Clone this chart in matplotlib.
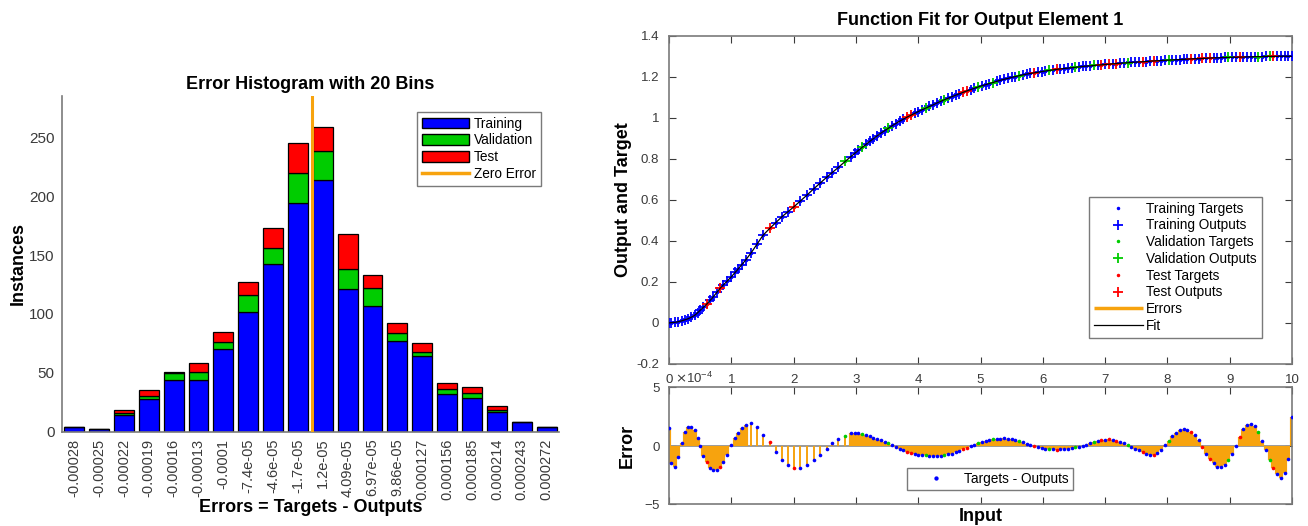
import numpy as np
import matplotlib
matplotlib.use("Agg")
import matplotlib.pyplot as plt
from matplotlib.patches import Patch
from matplotlib.lines import Line2D
from matplotlib.ticker import FuncFormatter, ScalarFormatter

plt.rcParams['font.family'] = ['Liberation Sans', 'DejaVu Sans']
plt.rcParams['axes.unicode_minus'] = False

# ---------------- error histogram (20 bins) ----------------
bin_centers = [-2.7665e-4, -2.4778e-4, -2.1891e-4, -1.9004e-4, -1.6117e-4,
               -1.3230e-4, -1.0343e-4, -7.456e-5, -4.569e-5, -1.682e-5,
               1.205e-5, 4.092e-5, 6.979e-5, 9.866e-5, 1.2753e-4,
               1.5640e-4, 1.8527e-4, 2.1414e-4, 2.4301e-4, 2.7188e-4]
bin_labels = ['-0.00028', '-0.00025', '-0.00022', '-0.00019', '-0.00016',
              '-0.00013', '-0.0001', '-7.4e-05', '-4.6e-05', '-1.7e-05',
              '1.2e-05', '4.09e-05', '6.97e-05', '9.86e-05', '0.000127',
              '0.000156', '0.000185', '0.000214', '0.000243', '0.000272']
train_counts = [4, 2, 14, 28, 44, 44, 70, 102, 142, 194, 214, 121, 107, 77, 64, 32, 29, 17, 8, 4]
val_counts = [0, 0, 2, 2, 6, 7, 6, 14, 14, 26, 24, 17, 15, 7, 4, 4, 4, 1, 0, 0]
test_counts = [0, 0, 2, 5, 1, 7, 9, 11, 17, 25, 21, 30, 11, 8, 7, 5, 5, 4, 0, 0]

# ---------------- function fit samples ----------------
# inputs, targets and errors (errors in units of 1e-4)
inputs = [
    0.00, 0.03, 0.10, 0.15, 0.20, 0.26, 0.30, 0.35, 0.41, 0.46,
    0.50, 0.55, 0.61, 0.66, 0.71, 0.77, 0.82, 0.87, 0.93, 1.00,
    1.06, 1.11, 1.17, 1.23, 1.32, 1.41, 1.51, 1.62, 1.71, 1.81,
    1.91, 2.00, 2.10, 2.21, 2.32, 2.42, 2.53, 2.62, 2.72, 2.83,
    2.92,
    2.98, 3.04, 3.10, 3.16, 3.22, 3.28, 3.34, 3.40, 3.46, 3.52,
    3.58, 3.64, 3.70, 3.76, 3.82, 3.88, 3.94, 4.00, 4.06, 4.12,
    4.18, 4.24, 4.30, 4.36, 4.42, 4.48, 4.54, 4.60, 4.66, 4.72,
    4.78, 4.84, 4.90, 4.96, 5.02, 5.08, 5.14, 5.20, 5.26, 5.32,
    5.38, 5.44, 5.50, 5.56, 5.62, 5.68, 5.74, 5.80, 5.86, 5.92,
    5.98, 6.04, 6.10, 6.16, 6.22, 6.28, 6.34, 6.40, 6.46, 6.52,
    6.58, 6.64, 6.70, 6.76, 6.82, 6.88, 6.94, 7.00, 7.06, 7.12,
    7.18, 7.24, 7.30, 7.36, 7.42, 7.48, 7.54, 7.60, 7.66, 7.72,
    7.78, 7.84, 7.90, 7.96, 8.02, 8.08, 8.14, 8.20, 8.26, 8.32,
    8.38, 8.44, 8.50, 8.56, 8.62, 8.68, 8.74, 8.80, 8.86, 8.92,
    8.98, 9.04, 9.10, 9.16, 9.22, 9.28, 9.34, 9.40, 9.46, 9.52,
    9.58, 9.64, 9.70, 9.76, 9.82, 9.88, 9.94, 10.00]
targets = [
    0.000, 0.001, 0.003, 0.006, 0.010, 0.016, 0.020, 0.027, 0.037, 0.050,
    0.062, 0.076, 0.093, 0.110, 0.127, 0.150, 0.169, 0.185, 0.203, 0.225,
    0.246, 0.263, 0.285, 0.307, 0.343, 0.383, 0.428, 0.462, 0.488, 0.517,
    0.542, 0.565, 0.592, 0.622, 0.653, 0.680, 0.710, 0.733, 0.759, 0.788,
    0.811,
    0.827, 0.842, 0.856, 0.870, 0.885, 0.898, 0.912, 0.925, 0.937, 0.949,
    0.961, 0.972, 0.983, 0.993, 1.003, 1.012, 1.021, 1.030, 1.039, 1.047,
    1.055, 1.063, 1.072, 1.080, 1.088, 1.095, 1.103, 1.110, 1.117, 1.124,
    1.131, 1.137, 1.144, 1.150, 1.156, 1.161, 1.167, 1.172, 1.178, 1.183,
    1.188, 1.192, 1.197, 1.201, 1.205, 1.209, 1.213, 1.216, 1.219, 1.222,
    1.225, 1.228, 1.231, 1.233, 1.236, 1.238, 1.240, 1.242, 1.244, 1.246,
    1.248, 1.250, 1.252, 1.253, 1.255, 1.257, 1.258, 1.260, 1.261, 1.263,
    1.264, 1.266, 1.267, 1.268, 1.270, 1.271, 1.272, 1.273, 1.274, 1.276,
    1.277, 1.278, 1.279, 1.280, 1.281, 1.282, 1.283, 1.284, 1.285, 1.286,
    1.287, 1.288, 1.288, 1.289, 1.290, 1.291, 1.292, 1.292, 1.293, 1.294,
    1.294, 1.295, 1.295, 1.296, 1.296, 1.297, 1.297, 1.298, 1.298, 1.298,
    1.299, 1.299, 1.299, 1.299, 1.300, 1.300, 1.300, 1.300]
errors_e4 = [
    1.49, -1.51, -1.80, -0.94, 0.26, 1.20, 1.63, 1.63, 1.34, 0.63,
    -0.03, -0.89, -1.37, -1.86, -2.03, -2.03, -1.80, -1.37, -0.80, 0.06,
    0.63, 1.11, 1.49, 1.77, 1.91, 1.63, 0.91, 0.34, -0.51, -1.17,
    -1.66, -1.89, -1.89, -1.66, -1.23, -0.80, -0.31, 0.20, 0.54, 0.86,
    1.11,
    1.08, 1.08, 1.02, 0.93, 0.83, 0.71, 0.58, 0.46, 0.35, 0.22,
    0.05, -0.10, -0.24, -0.39, -0.51, -0.62, -0.72, -0.77, -0.80, -0.82,
    -0.84, -0.85, -0.84, -0.83, -0.80, -0.74, -0.66, -0.56, -0.44, -0.30,
    -0.17, -0.03, 0.09, 0.20, 0.31, 0.41, 0.48, 0.55, 0.60, 0.62,
    0.63, 0.61, 0.55, 0.47, 0.38, 0.29, 0.19, 0.10, 0.01, -0.08,
    -0.16, -0.23, -0.28, -0.31, -0.32, -0.31, -0.29, -0.25, -0.20, -0.14,
    -0.07, 0.01, 0.10, 0.20, 0.30, 0.39, 0.47, 0.52, 0.54, 0.51,
    0.44, 0.34, 0.22, 0.08, -0.07, -0.23, -0.40, -0.56, -0.69, -0.78,
    -0.79, -0.62, -0.32, 0.06, 0.45, 0.82, 1.12, 1.32, 1.40, 1.37,
    1.22, 0.93, 0.50, -0.12, -0.70, -1.16, -1.51, -1.80, -1.82, -1.62,
    -1.23, -0.70, 0.00, 0.77, 1.40, 1.80, 1.90, 1.70, 1.15, 0.40,
    -0.35, -1.22, -1.90, -2.45, -2.78, -2.35, -1.10, 2.50]
# T = training, V = validation, S = test
subsets = ("TTTTTTTTTT" "TTSTTTSTTT" "TTTTTTTSTT" "TSTTTTTTTV" "T"
           "TTVTTTTTTV" "TTTTSSTTTV" "TTTTVTTTTS" "STTVTTTVTT" "TTTTVTTTST"
           "TTVTSTTTTV" "TTTTVTSTST" "STTVTTTSTT" "STTTVTTTTT" "STTSTSTTTT"
           "VTTSTTTTVT" "TVSTTTTT")

BLUE, GREEN, RED = '#0000ff', '#00cc00', '#ff0000'
ORANGE = '#f7a30e'
AXIS = '#7a7a7a'
TICK = '#3a3a3a'

x = np.array(inputs)
t = np.array(targets)
err = np.array(errors_e4) * 1e-4
out = t - err
codes = np.array(list(subsets))

fig = plt.figure(figsize=(13.08, 5.26), dpi=100)

# ================= left: error histogram =================
axh = fig.add_axes([0.0472, 0.1793, 0.3802, 0.6382])
c = np.array(bin_centers)
step = np.median(np.diff(c))
tr = np.array(train_counts)
va = np.array(val_counts)
te = np.array(test_counts)
axh.bar(c, tr, width=0.8 * step, color=BLUE, edgecolor='black', linewidth=0.9, zorder=2)
axh.bar(c, va, width=0.8 * step, bottom=tr, color=GREEN, edgecolor='black', linewidth=0.9, zorder=2)
axh.bar(c, te, width=0.8 * step, bottom=tr + va, color=RED, edgecolor='black', linewidth=0.9, zorder=2)
axh.axvline(0, color=ORANGE, linewidth=2.2, zorder=3)
axh.set_xlim(c[0] - 0.5 * step, c[-1] + 0.5 * step)
axh.set_ylim(0, 285)
axh.set_yticks([0, 50, 100, 150, 200, 250])
axh.set_xticks(c)
axh.set_xticklabels(bin_labels, rotation=90)
axh.tick_params(axis='y', labelsize=11, colors=TICK, length=0, pad=5)
axh.tick_params(axis='x', labelsize=10.5, colors=TICK, length=0, pad=5)
for s in ('top', 'right'):
    axh.spines[s].set_visible(False)
for s in ('left', 'bottom'):
    axh.spines[s].set_color(AXIS)
    axh.spines[s].set_linewidth(1.2)
axh.set_title('Error Histogram with 20 Bins', fontsize=13, fontweight='bold', pad=5)
axh.set_ylabel('Instances', fontsize=13, fontweight='bold')
axh.yaxis.set_label_coords(-0.07, 0.5)
axh.set_xlabel('Errors = Targets - Outputs', fontsize=13, fontweight='bold')
axh.xaxis.set_label_coords(0.5, -0.2)
h_handles = [Patch(facecolor=BLUE, edgecolor='black', label='Training'),
             Patch(facecolor=GREEN, edgecolor='black', label='Validation'),
             Patch(facecolor=RED, edgecolor='black', label='Test'),
             Line2D([], [], color=ORANGE, linewidth=2.5, label='Zero Error')]
lg = axh.legend(handles=h_handles, loc='upper left', bbox_to_anchor=(0.3188, 0.7871),
                bbox_transform=fig.transFigure, borderaxespad=0, fontsize=9.8,
                handlelength=3.5, handleheight=0.85, handletextpad=0.35,
                labelspacing=0.2, borderpad=0.35, fancybox=False, framealpha=1)
lg.get_frame().set_edgecolor(AXIS)
lg.get_frame().set_linewidth(1.0)

# ================= right top: function fit =================
ax1 = fig.add_axes([0.5115, 0.308, 0.4763, 0.6241])
groups = [('T', BLUE, 'Training'), ('V', GREEN, 'Validation'), ('S', RED, 'Test')]
for code, col, name in groups:
    m = codes == code
    ax1.plot(x[m], t[m], linestyle='none', marker='.', markersize=3, color=col,
             label=name + ' Targets', zorder=3)
    ax1.plot(x[m], out[m], linestyle='none', marker='+', markersize=7, markeredgewidth=1.3,
             color=col, label=name + ' Outputs', zorder=3)
ax1.vlines(x, t, out, colors=ORANGE, linewidth=2.5, label='Errors', zorder=2)
ax1.plot(x, out, color='black', linewidth=0.9, label='Fit', zorder=4)
ax1.set_xlim(0, 10)
ax1.set_ylim(-0.2, 1.4)
ax1.set_xticks(range(0, 11))
ax1.set_yticks(np.round(np.arange(-0.2, 1.41, 0.2), 1))
ax1.yaxis.set_major_formatter(FuncFormatter(lambda v, p: '%g' % round(v, 1)))
ax1.tick_params(axis='both', direction='in', top=True, right=True, length=5,
                labelsize=9.5, colors=TICK, pad=7)
for s in ax1.spines.values():
    s.set_color(AXIS)
    s.set_linewidth(1.2)
ax1.set_title('Function Fit for Output Element 1', fontsize=13, fontweight='bold', pad=8)
ax1.set_ylabel('Output and Target', fontsize=13, fontweight='bold', labelpad=3)
lg1 = ax1.legend(loc='upper left', bbox_to_anchor=(0.8326, 0.6255),
                 bbox_transform=fig.transFigure, borderaxespad=0, fontsize=9.8,
                 handlelength=3.6, handletextpad=0.25, labelspacing=0.2,
                 borderpad=0.35, fancybox=False, framealpha=1, numpoints=1)
lg1.get_frame().set_edgecolor(AXIS)
lg1.get_frame().set_linewidth(1.0)

# ================= right bottom: errors =================
ax2 = fig.add_axes([0.5115, 0.0412, 0.4763, 0.2225])
gap = np.minimum(np.r_[np.inf, np.diff(x)], np.r_[np.diff(x), np.inf])
widths = np.where(gap < 0.08, 3.0, 1.4)
ax2.axhline(0, color='#9a9a9a', linewidth=1.4, zorder=1)
ax2.vlines(x, 0, err, colors=ORANGE, linewidths=widths, zorder=2)
for code, col, name in groups:
    m = codes == code
    ax2.plot(x[m], err[m], linestyle='none', marker='o', markersize=2.6,
             markeredgewidth=0, color=col,
             label='Targets - Outputs' if code == 'T' else None, zorder=3)
ax2.set_xlim(0, 10)
ax2.set_ylim(-5e-4, 5e-4)
ax2.set_xticks(range(0, 11))
ax2.set_yticks([-5e-4, 0, 5e-4])
fmt = ScalarFormatter(useMathText=True)
fmt.set_powerlimits((0, 0))
ax2.yaxis.set_major_formatter(fmt)
ax2.yaxis.get_offset_text().set_fontsize(9.5)
ax2.yaxis.get_offset_text().set_color(TICK)
ax2.yaxis.get_offset_text().set_x(0.009)
ax2.tick_params(axis='both', direction='in', top=True, right=True, length=5,
                labelsize=9.5, colors=TICK, pad=6, labelbottom=False)
for s in ax2.spines.values():
    s.set_color(AXIS)
    s.set_linewidth(1.2)
ax2.set_ylabel('Error', fontsize=13, fontweight='bold', labelpad=6)
ax2.set_xlabel('Input', fontsize=13, fontweight='bold', labelpad=3)
lg2 = ax2.legend(loc='upper left', bbox_to_anchor=(0.6934, 0.1103),
                 bbox_transform=fig.transFigure, borderaxespad=0, fontsize=9.8,
                 handlelength=3.6, handletextpad=0.3, borderpad=0.3,
                 fancybox=False, framealpha=1, numpoints=1, markerscale=1.2)
lg2.get_frame().set_edgecolor(AXIS)
lg2.get_frame().set_linewidth(1.0)

fig.savefig('out.png', dpi=100)
